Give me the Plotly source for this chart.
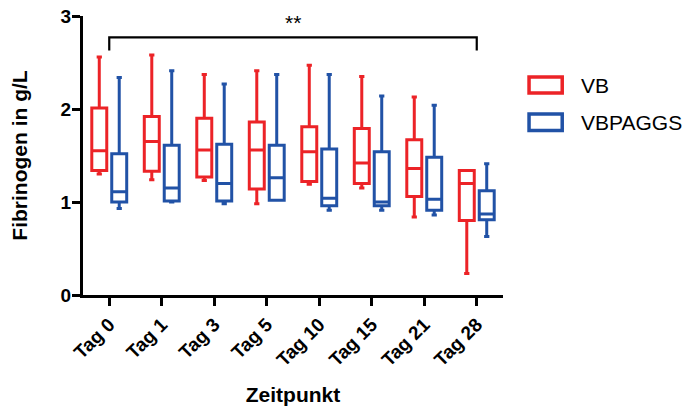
import plotly.graph_objects as go

# Fibrinogen concentration over time, two storage groups
categories = ["Tag 0", "Tag 1", "Tag 3", "Tag 5", "Tag 10", "Tag 15", "Tag 21", "Tag 28"]

vb_min = [1.30, 1.24, 1.23, 0.98, 1.19, 1.15, 0.84, 0.23]
vb_q1 = [1.34, 1.33, 1.27, 1.14, 1.22, 1.20, 1.06, 0.80]
vb_median = [1.55, 1.65, 1.56, 1.56, 1.54, 1.42, 1.36, 1.20]
vb_q3 = [2.01, 1.92, 1.90, 1.86, 1.81, 1.79, 1.67, 1.34]
vb_max = [2.56, 2.58, 2.37, 2.41, 2.47, 2.35, 2.13, 1.34]

vbp_min = [0.93, 1.00, 0.98, 1.02, 0.91, 0.91, 0.86, 0.63]
vbp_q1 = [1.00, 1.01, 1.01, 1.02, 0.96, 0.96, 0.91, 0.81]
vbp_median = [1.11, 1.15, 1.20, 1.26, 1.04, 1.00, 1.03, 0.87]
vbp_q3 = [1.52, 1.61, 1.62, 1.61, 1.57, 1.54, 1.48, 1.12]
vbp_max = [2.34, 2.41, 2.27, 2.37, 2.37, 2.14, 2.04, 1.41]

series_names = ["VB", "VBPAGGS"]
RED = "#EC2327"
BLUE = "#2152A6"
FONT = "Liberation Sans, Arial, sans-serif"

fig = go.Figure()
for name, color, lo, q1, med, q3, hi in [
    (series_names[0], RED, vb_min, vb_q1, vb_median, vb_q3, vb_max),
    (series_names[1], BLUE, vbp_min, vbp_q1, vbp_median, vbp_q3, vbp_max),
]:
    fig.add_trace(go.Box(
        x=categories, q1=q1, median=med, q3=q3,
        lowerfence=lo, upperfence=hi,
        name=name, boxpoints=False,
        line=dict(color=color, width=3),
        fillcolor="white", whiskerwidth=0.35,
        showlegend=False,
    ))

# significance bracket between Tag 0 and Tag 28
fig.add_shape(type="path", xref="x", yref="y",
              path="M 0,2.63 L 0,2.77 L 7,2.77 L 7,2.63",
              line=dict(color="black", width=2.2))
fig.add_annotation(x=3.5, y=2.77, xref="x", yref="y", text="**", showarrow=False,
                   yanchor="bottom", yshift=1,
                   font=dict(family=FONT, size=21, color="black"))

# legend drawn as outlined boxes with labels
legend_rows = [(series_names[0], RED, 0.724, 0.781), (series_names[1], BLUE, 0.59, 0.649)]
for label, color, y0, y1 in legend_rows:
    fig.add_shape(type="rect", xref="paper", yref="paper",
                  x0=1.062, x1=1.141, y0=y0, y1=y1,
                  line=dict(color=color, width=3.5), fillcolor="white")
    fig.add_annotation(x=1.18, y=(y0 + y1) / 2, xref="paper", yref="paper",
                       text=label, showarrow=False, xanchor="left", yanchor="middle",
                       font=dict(family=FONT, size=21, color="black"))

fig.update_layout(
    width=691, height=409,
    margin=dict(l=83, r=188, t=16, b=114),
    paper_bgcolor="white", plot_bgcolor="white",
    boxmode="group", boxgap=0.24, boxgroupgap=0.25,
    font=dict(family=FONT, color="black"),
    xaxis=dict(
        type="category", range=[-0.5, 7.5], automargin=False,
        showline=True, linecolor="black", linewidth=3,
        ticks="outside", ticklen=8, tickwidth=2.5, tickcolor="black",
        tickangle=-45,
        tickfont=dict(family=FONT, size=19, color="black", weight="bold"),
        title=dict(text="Zeitpunkt", standoff=18,
                   font=dict(family=FONT, size=21, color="black", weight="bold")),
        showgrid=False, zeroline=False,
    ),
    yaxis=dict(
        range=[0, 3], tickvals=[0, 1, 2, 3], automargin=False,
        showline=True, linecolor="black", linewidth=3,
        ticks="outside", ticklen=8, tickwidth=2.5, tickcolor="black",
        ticklabelstandoff=-3,
        tickfont=dict(family=FONT, size=19, color="black", weight="bold"),
        title=dict(text="Fibrinogen in g/L", standoff=28,
                   font=dict(family=FONT, size=21, color="black", weight="bold")),
        showgrid=False, zeroline=False,
    ),
)

fig.write_html("out.html")
